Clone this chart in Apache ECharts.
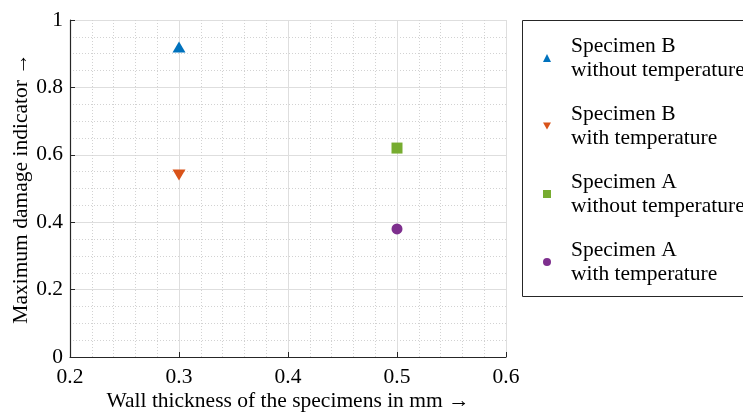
<!DOCTYPE html>
<html>
<head>
<meta charset="utf-8">
<script src="https://cdn.jsdelivr.net/npm/echarts@6/dist/echarts.min.js"></script>
<style>html,body{margin:0;padding:0;background:#fff;}#c{width:743px;height:413px;}</style>
</head>
<body>
<div id="c"></div>
<script>
const seriesNames = ['Specimen B\nwithout temperature', 'Specimen B\nwith temperature', 'Specimen A\nwithout temperature', 'Specimen A\nwith temperature'];
const xValues = [0.3, 0.3, 0.5, 0.5];
const yValues = [0.92, 0.54, 0.62, 0.38];
const colors = ['#0072BD', '#D95319', '#77AC30', '#7E2F8E'];
const symbols = ['triangle', 'triangle', 'rect', 'circle'];
const rotations = [0, 180, 0, 0];
const legendIcons = ['triangle', 'path://M0,0L10,0L5,9Z', 'rect', 'circle'];
const symbolSizes = [[13, 11], [13, 11], 11, 11];
const xTicks = [0.2, 0.3, 0.4, 0.5, 0.6];
const yTicks = [0, 0.2, 0.4, 0.6, 0.8, 1];

const FONT = 'Liberation Serif';
const FS = 21.5;
const chart = echarts.init(document.getElementById('c'));
const axisCommon = {
  axisLine: {show: true, lineStyle: {color: '#262626', width: 1.2}},
  axisTick: {show: true, inside: true, length: 5, lineStyle: {color: '#262626'}},
  splitLine: {show: true, lineStyle: {color: '#dedede', width: 1}},
  minorSplitLine: {show: true, lineStyle: {color: '#d2d2d2', type: [1, 2], width: 1}},
  axisLabel: {color: '#000', fontFamily: FONT, fontSize: FS, formatter: v => String(Number(v.toFixed(1)))},
  nameTextStyle: {color: '#000', fontFamily: FONT, fontSize: FS},
  nameMoveOverlap: false
};
chart.setOption({
  animation: false,
  grid: {left: 70, right: 237, top: 20, bottom: 56, containLabel: false, outerBoundsMode: 'none'},
  xAxis: Object.assign({}, axisCommon, {
    type: 'value', min: xTicks[0], max: xTicks[xTicks.length - 1], interval: 0.1,
    minorTick: {show: false, splitNumber: 5},
    name: 'Wall thickness of the specimens in mm \u2192', nameLocation: 'middle', nameGap: 33,
    axisLabel: Object.assign({}, axisCommon.axisLabel, {margin: 9})
  }),
  yAxis: Object.assign({}, axisCommon, {
    type: 'value', min: yTicks[0], max: yTicks[yTicks.length - 1], interval: 0.2,
    minorTick: {show: false, splitNumber: 4},
    name: 'Maximum damage indicator \u2192', nameLocation: 'middle', nameGap: 38,
    axisLabel: Object.assign({}, axisCommon.axisLabel, {margin: 7})
  }),
  graphic: [{
    type: 'rect', silent: true,
    shape: {x: 522.5, y: 20.5, width: 260, height: 276},
    style: {fill: 'none', stroke: '#262626', lineWidth: 1}
  }],
  legend: {
    orient: 'vertical', left: 522, top: 20,
    padding: [14, 10, 9, 21], itemGap: 20,
    itemWidth: 8, itemHeight: 8,
    textStyle: {fontFamily: FONT, fontSize: FS, lineHeight: 24, color: '#000', padding: [0, 0, 0, 15]},
    data: seriesNames.map((n, i) => ({name: n, icon: legendIcons[i]}))
  },
  series: seriesNames.map((n, i) => ({
    name: n, type: 'scatter',
    symbol: symbols[i], symbolRotate: rotations[i], symbolSize: symbolSizes[i],
    itemStyle: {color: colors[i], opacity: 1},
    data: [[xValues[i], yValues[i]]]
  }))
});
</script>
</body>
</html>
